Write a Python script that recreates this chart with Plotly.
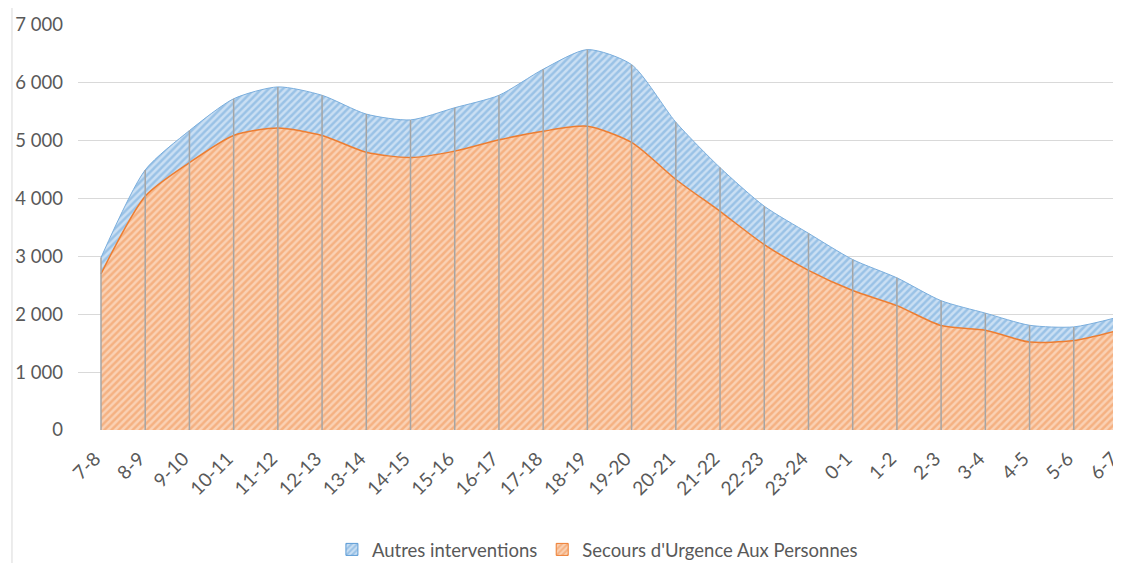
import plotly.graph_objects as go

categories = ["7-8", "8-9", "9-10", "10-11", "11-12", "12-13", "13-14", "14-15",
              "15-16", "16-17", "17-18", "18-19", "19-20", "20-21", "21-22", "22-23",
              "23-24", "0-1", "1-2", "2-3", "3-4", "4-5", "5-6", "6-7"]
suap = [2700, 4040, 4620, 5090, 5220, 5090, 4800, 4710, 4820, 5015, 5165, 5250,
        4970, 4330, 3780, 3205, 2760, 2410, 2150, 1805, 1725, 1520, 1545, 1720]
autres = [280, 455, 555, 635, 710, 695, 660, 650, 750, 770, 1070, 1325,
          1345, 990, 755, 663, 640, 536, 480, 430, 295, 290, 237, 230]
y_ticks = [0, 1000, 2000, 3000, 4000, 5000, 6000, 7000]

FONT = "Lato"
FS = 18.5
TXT = "#595959"
ORANGE = "#ED7D31"
ORANGE_BG = "#FAD1B4"
ORANGE_FG = "#F0914F"
BLUE = "#5B9BD5"
BLUE_BG = "#CADFF3"
BLUE_FG = "#6AA5DA"

totals = [a + b for a, b in zip(suap, autres)]

fig = go.Figure()
fig.add_trace(go.Scatter(
    x=categories, y=suap, stackgroup="s", mode="lines",
    line=dict(color=ORANGE, width=1.5, shape="spline", smoothing=0.7),
    fillcolor=ORANGE_BG,
    fillpattern=dict(shape="/", size=5, solidity=0.5, fgcolor=ORANGE_FG,
                     fillmode="overlay"),
    name="Secours d'Urgence Aux Personnes", showlegend=False, hoverinfo="skip"))
fig.add_trace(go.Scatter(
    x=categories, y=autres, stackgroup="s", mode="lines",
    line=dict(color="#7AAEDD", width=1, shape="spline", smoothing=0.7),
    fillcolor=BLUE_BG,
    fillpattern=dict(shape="/", size=5, solidity=0.5, fgcolor=BLUE_FG,
                     fillmode="overlay"),
    name="Autres interventions", showlegend=False, hoverinfo="skip"))

# drop lines
dx, dy = [], []
for c, t in zip(categories, totals):
    dx += [c, c, None]
    dy += [0, t, None]
fig.add_trace(go.Scatter(x=dx, y=dy, mode="lines",
                         line=dict(color="#A5A5A5", width=1.5),
                         showlegend=False, hoverinfo="skip"))

# legend entries
fig.add_trace(go.Bar(x=[None], y=[None], name="Autres interventions",
                     marker=dict(color=BLUE_BG, line=dict(color=BLUE, width=1),
                                 pattern=dict(shape="/", size=5, solidity=0.5,
                                              fgcolor=BLUE_FG))))
fig.add_trace(go.Bar(x=[None], y=[None], name="Secours d'Urgence Aux Personnes",
                     marker=dict(color=ORANGE_BG, line=dict(color=ORANGE, width=1),
                                 pattern=dict(shape="/", size=5, solidity=0.5,
                                              fgcolor=ORANGE_FG))))

# The page body has an 8px default margin, so the figure is sized to fit
fig.update_layout(
    width=1113, height=555,
    margin=dict(l=70, r=0, t=17, b=133, autoexpand=False),
    paper_bgcolor="white", plot_bgcolor="white",
    font=dict(family=FONT, size=FS, color=TXT),
    separators=", ",
    showlegend=True,
    legend=dict(orientation="h", x=0.498, xanchor="center", y=-0.296, yanchor="middle",
                font=dict(family=FONT, size=FS, color=TXT),
                itemwidth=30, traceorder="normal", bgcolor="rgba(0,0,0,0)"),
    xaxis=dict(type="category", categoryorder="array", categoryarray=categories,
               range=[-0.52, 23.068], tickangle=-45, showgrid=False,
               showline=False, ticks="", zeroline=False, automargin=False,
               ticklabelshift=-6, ticklabelstandoff=13,
               tickfont=dict(family=FONT, size=19, color=TXT)),
    yaxis=dict(range=[0, 7000], tickvals=y_ticks, tickformat=",d",
               showgrid=True, gridcolor="#D9D9D9", gridwidth=1,
               zeroline=False, showline=False, ticklabelstandoff=14,
               automargin=False,
               tickfont=dict(family=FONT, size=FS, color=TXT)),
    shapes=[dict(type="line", xref="paper", yref="paper",
                 x0=-0.0633, x1=-0.0633, y0=-0.33, y1=1.07,
                 line=dict(color="#D9D9D9", width=1))],
)

fig.write_html("out.html")
